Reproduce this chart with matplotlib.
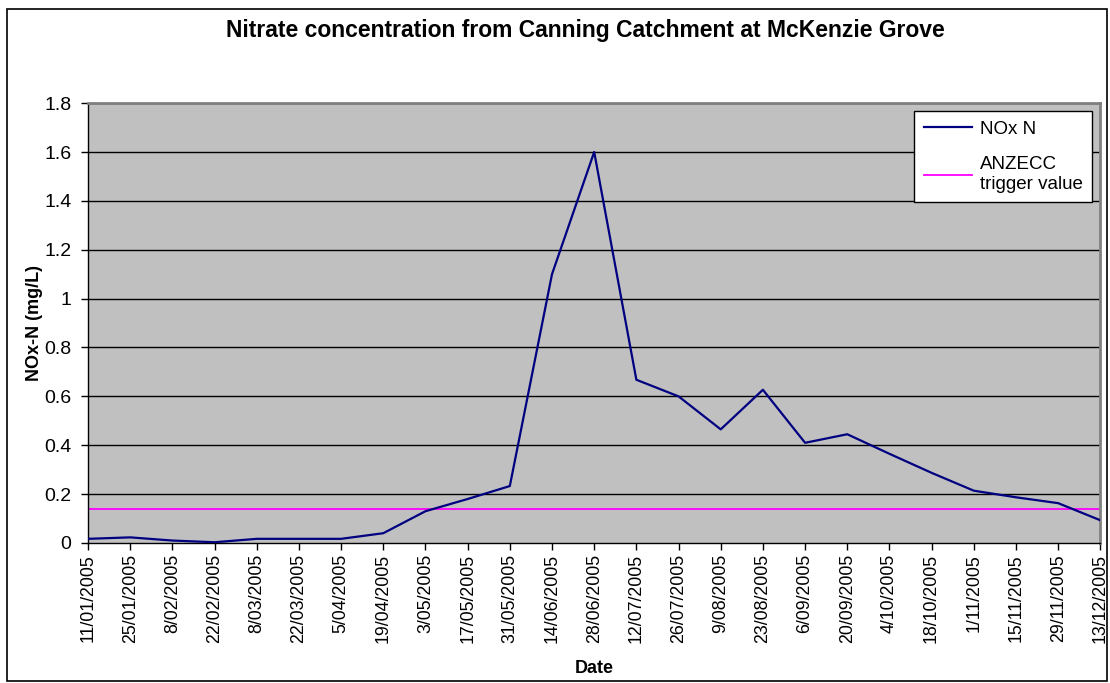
import numpy as np
import matplotlib.pyplot as plt
from matplotlib.patches import Rectangle

plt.rcParams['font.family'] = ['Liberation Sans', 'DejaVu Sans']

# dane
dates = ["11/01/2005", "25/01/2005", "8/02/2005", "22/02/2005", "8/03/2005",
         "22/03/2005", "5/04/2005", "19/04/2005", "3/05/2005", "17/05/2005",
         "31/05/2005", "14/06/2005", "28/06/2005", "12/07/2005", "26/07/2005",
         "9/08/2005", "23/08/2005", "6/09/2005", "20/09/2005", "4/10/2005",
         "18/10/2005", "1/11/2005", "15/11/2005", "29/11/2005", "13/12/2005"]
nox_n = [0.017, 0.023, 0.01, 0.003, 0.017, 0.017, 0.017, 0.04, 0.13, 0.18,
         0.233, 1.1, 1.6, 0.668, 0.6, 0.465, 0.627, 0.41, 0.445, 0.365,
         0.287, 0.214, 0.187, 0.163, 0.093]
anzecc = 0.14
yticks = [0, 0.2, 0.4, 0.6, 0.8, 1, 1.2, 1.4, 1.6, 1.8]
ytick_labels = ["0", "0.2", "0.4", "0.6", "0.8", "1", "1.2", "1.4", "1.6", "1.8"]

fig = plt.figure(figsize=(11.1, 6.83), dpi=100)
ax = fig.add_axes([0.0793, 0.205, 0.912, 0.644])

x = np.arange(len(dates))
ax.set_facecolor('#C0C0C0')
for t in yticks[1:]:
    ax.axhline(t, color='black', lw=1.0, zorder=1)
ax.plot(x, [anzecc] * len(x), color='#FF00FF', lw=1.3, zorder=2, label='ANZECC\ntrigger value')
ax.plot(x, nox_n, color='#000080', lw=1.6, zorder=3, label='NOx N')

ax.set_xlim(0, len(dates) - 1)
ax.set_ylim(0, 1.8)
ax.set_xticks(x)
ax.set_xticklabels(dates, rotation=90, fontsize=12.8)
ax.set_yticks(yticks)
ax.set_yticklabels(ytick_labels, fontsize=14)
ax.tick_params(axis='y', direction='out', length=5, width=1, color='black', pad=7)
ax.tick_params(axis='x', direction='out', length=5, width=1, color='black', pad=3)

for s in ['top', 'right']:
    ax.spines[s].set_color('#808080')
    ax.spines[s].set_linewidth(2)
for s in ['left', 'bottom']:
    ax.spines[s].set_color('black')
    ax.spines[s].set_linewidth(1)

ax.set_xlabel('Date', fontsize=13, fontweight='bold', labelpad=12)
ax.set_ylabel('NOx-N (mg/L)', fontsize=13, fontweight='bold', labelpad=1)
fig.text(0.527, 0.955, 'Nitrate concentration from Canning Catchment at McKenzie Grove',
         ha='center', va='center', fontsize=16.5, fontweight='bold')

h, l = ax.get_legend_handles_labels()
leg = ax.legend(h[::-1], l[::-1], loc='upper right', bbox_to_anchor=(0.992, 0.982),
                borderaxespad=0, fontsize=13.5, frameon=True, fancybox=False,
                edgecolor='black', handlelength=2.6, labelspacing=1.0,
                borderpad=0.5, handletextpad=0.4)
leg.get_frame().set_linewidth(1)
leg.get_frame().set_alpha(1)

# ramka wokół całego wykresu
fig.patches.append(Rectangle((0.006, 0.003), 0.991, 0.984, transform=fig.transFigure,
                             fill=False, edgecolor='black', lw=1.2))

fig.savefig('out.png', dpi=100)
